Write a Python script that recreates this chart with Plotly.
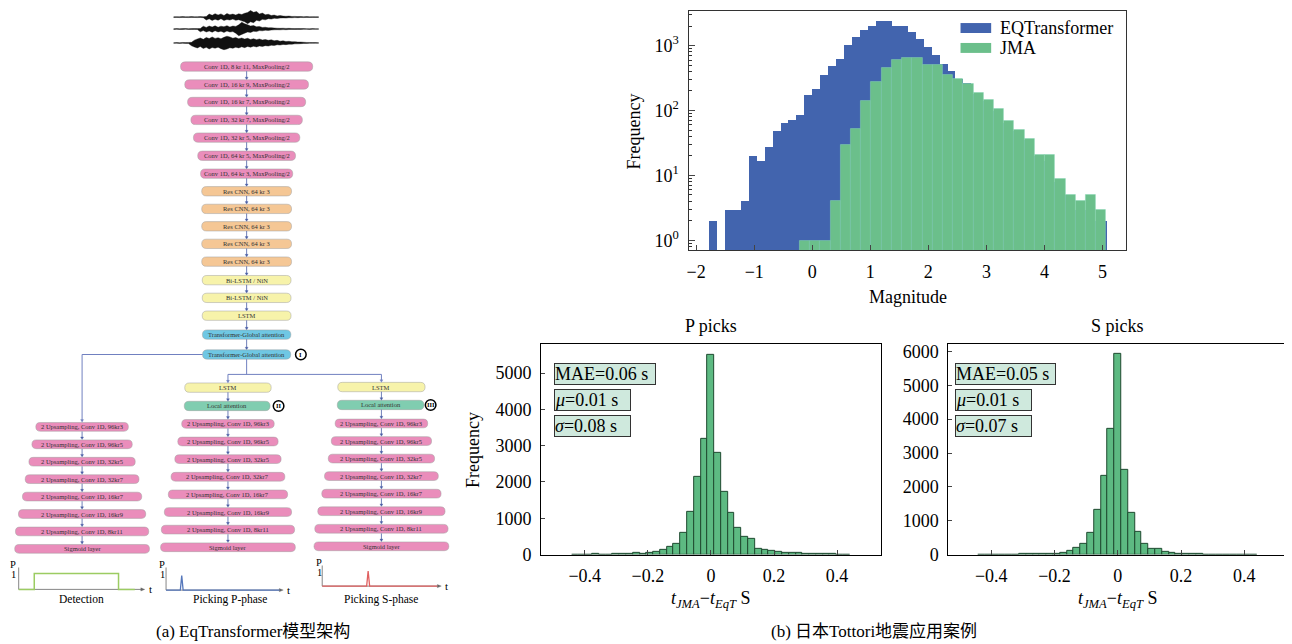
import numpy as np
import plotly.graph_objects as go

# Screen placement: page body adds an 8 px offset; the capture is slightly compressed vertically
OX, OY = 8, 8
KY = 0.986
FW, FH = 1284, 645

# ---------------- data: magnitude histograms (counts per bin) ----------------
EQT_BIN_START = -1.786
EQT_BIN_WIDTH = 0.137
EQT_COUNTS = [2, 0, 3, 3, 4, 20, 17, 28, 49, 64, 72, 86, 177, 219, 351, 483, 625, 1035,
              1358, 1740, 2043, 2391, 2450, 2040, 2000, 1622, 1253, 955, 728, 530, 405,
              312, 271, 180, 140, 100, 95, 65, 48, 35, 20, 18, 17, 8, 5, 4, 3, 3, 2, 2]
JMA_BIN_START = -0.22
JMA_BIN_WIDTH = 0.1761
JMA_COUNTS = [1, 1, 1, 4, 30, 53, 140, 275, 450, 600, 655, 650, 510, 500, 360, 305, 256,
              190, 146, 106, 69, 51, 37, 21, 21, 9, 5, 4, 5, 3]

# ---------------- data: pick residual histograms ----------------
RES_BIN_START = -0.44075
RES_BIN_WIDTH = 0.0215
P_COUNTS = [0, 0, 5, 15, 5, 5, 10, 15, 20, 40, 30, 50, 75, 120, 210, 290, 600, 1170, 2150, 3200,
            5500,
            2800, 1740, 1150, 730, 475, 430, 155, 130, 95, 70, 60, 50, 40, 25, 15, 10, 10, 8, 5, 5]
S_COUNTS = [0, 0, 0, 0, 0, 5, 10, 10, 20, 30, 15, 15, 40, 98, 196, 304, 637, 1314, 2333, 3700,
            5930,
            2500, 1225, 657, 320, 180, 165, 70, 40, 25, 15, 12, 10, 5, 0, 0, 0, 0, 0, 0, 0]
P_STATS = ["MAE=0.06 s", "<i>μ</i>=0.01 s", "<i>σ</i>=0.08 s"]
S_STATS = ["MAE=0.05 s", "<i>μ</i>=0.01 s", "<i>σ</i>=0.07 s"]

MAG_TICKS = [-2, -1, 0, 1, 2, 3, 4, 5]
MAG_TICK_TEXT = ["−2", "−1", "0", "1", "2", "3", "4", "5"]
LOG_TICKS = [1, 10, 100, 1000]
LOG_TICK_TEXT = ["10<sup>0</sup>", "10<sup>1</sup>", "10<sup>2</sup>", "10<sup>3</sup>"]
RES_TICKS = [-0.4, -0.2, 0, 0.2, 0.4]
RES_TICK_TEXT = ["−0.4", "−0.2", "0", "0.2", "0.4"]
P_YTICKS = [0, 1000, 2000, 3000, 4000, 5000]
S_YTICKS = [0, 1000, 2000, 3000, 4000, 5000, 6000]
LEGEND_NAMES = ["EQTransformer", "JMA"]

# ---------------- diagram text ----------------
ENC_LABELS = ["Conv 1D, 8 kr 11, MaxPooling/2", "Conv 1D, 16 kr 9, MaxPooling/2",
              "Conv 1D, 16 kr 7, MaxPooling/2", "Conv 1D, 32 kr 7, MaxPooling/2",
              "Conv 1D, 32 kr 5, MaxPooling/2", "Conv 1D, 64 kr 5, MaxPooling/2",
              "Conv 1D, 64 kr 3, MaxPooling/2",
              "Res CNN, 64 kr 3", "Res CNN, 64 kr 3", "Res CNN, 64 kr 3",
              "Res CNN, 64 kr 3", "Res CNN, 64 kr 3",
              "Bi-LSTM / NiN", "Bi-LSTM / NiN", "LSTM",
              "Transformer-Global attention", "Transformer-Global attention"]
ENC_KINDS = ["conv"] * 7 + ["res"] * 5 + ["lstm"] * 3 + ["tga"] * 2
DEC_LABELS = ["2 Upsampling, Conv 1D, 96kr3", "2 Upsampling, Conv 1D, 96kr5",
              "2 Upsampling, Conv 1D, 32kr5", "2 Upsampling, Conv 1D, 32kr7",
              "2 Upsampling, Conv 1D, 16kr7", "2 Upsampling, Conv 1D, 16kr9",
              "2 Upsampling, Conv 1D, 8kr11", "Sigmoid layer"]
BRANCH_PRE = ["LSTM", "Local attention"]
OUT_TITLES = ["Detection", "Picking P-phase", "Picking S-phase"]
CIRCLE_MARKS = ["I", "II", "III"]

# waveform envelope amplitudes (decorative seismograms, px)
WAVE_ENV = [
    [0.3, 0.4, 0.3, 0.5, 0.3, 0.4, 0.5, 0.3, 0.4, 0.5, 0.4, 0.6,
     3.0, 1.8, 3.4, 2.1, 3.2, 1.6, 3.5, 2.4, 3.0, 2.0, 3.3, 2.6, 3.8, 4.6,
     6.6, 4.8, 5.6, 3.2, 4.0, 2.3, 2.8, 1.6, 2.0, 1.2, 1.5, 1.0, 0.8, 1.0, 0.6, 0.7,
     0.5, 0.6, 0.4, 0.5, 0.3, 0.4, 0.3, 0.3],
    [0.3, 0.4, 0.3, 0.4, 0.5, 0.3, 0.4, 0.5, 0.4, 0.5,
     2.8, 1.6, 3.0, 2.0, 3.2, 1.8, 2.9, 2.2, 3.4, 2.0, 3.0, 2.6, 4.2,
     6.8, 5.4, 4.2, 3.0, 3.5, 2.2, 2.6, 1.6, 1.8, 1.2, 1.4, 1.0, 0.8, 0.7, 0.8, 0.6, 0.7,
     0.5, 0.4, 0.5, 0.4, 0.4, 0.3, 0.3, 0.4, 0.3, 0.3],
    [0.3, 0.4, 0.3, 0.5, 0.4, 0.5, 0.6,
     2.8, 4.0, 5.0, 3.6, 5.5, 4.4, 6.0, 4.6, 5.3, 4.2, 5.7, 6.8, 6.0, 4.8, 5.4, 4.2, 5.0,
     3.9, 4.7, 3.5, 4.3, 3.3, 4.0, 3.0, 3.5, 2.7, 3.1,
     2.3, 2.6, 1.8, 2.1, 1.5, 1.7, 1.2, 1.3, 0.9, 0.9, 0.7, 0.5, 0.5, 0.4, 0.4, 0.3],
]

# ---------------- styles ----------------
FONT = "Liberation Serif, Noto Sans CJK SC"
BLUE = "#4264ae"
GREEN = "#6bbf8b"
HGREEN = "#5dba82"
HEDGE = "#1f4a30"
BOXFILL = "#cfe9dd"
COLORS = {"conv": "#ea8dbb", "res": "#f5c795", "lstm": "#f7f3aa", "tga": "#6fc7e3",
          "att": "#80cdb0"}
ARROWC = "#4b5fa6"
LINEC = "#7080c0"


def dx(px):
    return min(1.0, max(0.0, (px - OX) / FW))


def dy(py):
    return min(1.0, max(0.0, 1 - (py / KY - OY) / FH))


fig = go.Figure()

# hidden full-figure axis in screen coordinates for diagram & annotations
fig.add_trace(go.Scatter(x=[], y=[], xaxis="x4", yaxis="y4", showlegend=False, hoverinfo="skip"))

# magnitude histograms
eqt_x = EQT_BIN_START + EQT_BIN_WIDTH * (np.arange(len(EQT_COUNTS)) + 0.5)
jma_x = JMA_BIN_START + JMA_BIN_WIDTH * (np.arange(len(JMA_COUNTS)) + 0.5)
eqt_y = [c if c > 0 else None for c in EQT_COUNTS]
fig.add_trace(go.Bar(x=eqt_x, y=eqt_y, width=EQT_BIN_WIDTH, marker=dict(color=BLUE, line=dict(width=0)),
                     name=LEGEND_NAMES[0], showlegend=False, xaxis="x", yaxis="y"))
fig.add_trace(go.Bar(x=jma_x, y=JMA_COUNTS, width=JMA_BIN_WIDTH,
                     marker=dict(color=GREEN, line=dict(width=0.5, color="#86d4b4")),
                     name=LEGEND_NAMES[1], showlegend=False, xaxis="x", yaxis="y"))

# residual histograms
res_x = RES_BIN_START + RES_BIN_WIDTH * (np.arange(len(P_COUNTS)) + 0.5)
fig.add_trace(go.Bar(x=res_x, y=P_COUNTS, width=RES_BIN_WIDTH,
                     marker=dict(color=HGREEN, line=dict(color=HEDGE, width=1)),
                     showlegend=False, xaxis="x2", yaxis="y2"))
res_x2 = RES_BIN_START + RES_BIN_WIDTH * (np.arange(len(S_COUNTS)) + 0.5)
fig.add_trace(go.Bar(x=res_x2, y=S_COUNTS, width=RES_BIN_WIDTH,
                     marker=dict(color=HGREEN, line=dict(color=HEDGE, width=1)),
                     showlegend=False, xaxis="x3", yaxis="y3"))

shapes = []
anns = []


def ann(x, y, text, size, **kw):
    d = dict(x=x, y=y, xref="x4", yref="y4", text=text, showarrow=False,
             font=dict(size=size, family=FONT, color=kw.pop("color", "black")))
    d.update(kw)
    return d


def line(x0, y0, x1, y1, color=LINEC, width=1):
    return dict(type="line", x0=x0, y0=y0, x1=x1, y1=y1, xref="x4", yref="y4",
                line=dict(color=color, width=width), layer="above")


def tri(path, color):
    return dict(type="path", path=path, xref="x4", yref="y4", fillcolor=color,
                line=dict(color=color, width=0.3), layer="above")


def arrow_down(x, y0, y1, color=ARROWC, width=0.8, hl=2.6, hw=1.5):
    shapes.append(line(x, y0, x, y1 - hl * 0.6, color, width))
    shapes.append(tri(f"M{x - hw},{y1 - hl} L{x + hw},{y1 - hl} L{x},{y1} Z", color))


def arrow_right(x0, x1, y, color="#666", width=0.8, hl=4, hw=1.6):
    shapes.append(line(x0, y, x1 - hl * 0.6, y, color, width))
    shapes.append(tri(f"M{x1 - hl},{y - hw} L{x1 - hl},{y + hw} L{x1},{y} Z", color))


def pill(cx, cy, w, h, fill):
    x0, x1 = cx - w / 2, cx + w / 2
    y0, y1 = cy - h / 2, cy + h / 2
    r = h / 2
    p = (f"M{x0 + r},{y0} L{x1 - r},{y0} Q{x1},{y0} {x1},{cy} Q{x1},{y1} {x1 - r},{y1} "
         f"L{x0 + r},{y1} Q{x0},{y1} {x0},{cy} Q{x0},{y0} {x0 + r},{y0} Z")
    return dict(type="path", path=p, xref="x4", yref="y4", fillcolor=fill,
                line=dict(color="rgba(160,160,160,0.7)", width=0.7), layer="above")


BH = 9.4
BOXFONT = 6.5

# ---- waveforms ----
wave_cy = [15, 27, 41]
for cy, env in zip(wave_cy, WAVE_ENV):
    wx = np.linspace(172, 317, len(env))
    up = " L".join(f"{x:.1f},{cy - a:.1f}" for x, a in zip(wx, env))
    lo_env = env[1:] + env[:1]
    lo = " L".join(f"{x:.1f},{cy + a:.1f}" for x, a in zip(wx[::-1], lo_env[::-1]))
    shapes.append(dict(type="path", path=f"M{up} L{lo} Z", xref="x4", yref="y4",
                       fillcolor="#111", line=dict(color="#111", width=0.4), layer="above"))

# ---- encoder ----
ENC_Y = [64.7, 82.7, 100.3, 118.3, 136.1, 154.3, 172.3, 190.0, 207.7, 225.2, 242.8, 260.7,
         279.3, 297.1, 315.0, 334.0, 354.0]
ENC_W = [132.4, 124, 118.3, 111.7, 106.6, 98, 92.4, 90, 90, 90, 90, 90, 89, 89, 89, 88.6, 88.3]
ENC_CX = 245.0
for i, (lab, kind) in enumerate(zip(ENC_LABELS, ENC_KINDS)):
    shapes.append(pill(ENC_CX, ENC_Y[i], ENC_W[i], BH, COLORS[kind]))
    anns.append(ann(ENC_CX, ENC_Y[i], lab, BOXFONT, color="#333"))
    if i < len(ENC_LABELS) - 1:
        arrow_down(ENC_CX, ENC_Y[i] + BH / 2, ENC_Y[i + 1] - BH / 2)

# ---- decoders ----
DEC_CX = [80.2, 226.3, 380.0]
DEC_Y0 = [426.7, 423.7, 423.3]
DEC_STEP = [17.51, 17.71, 17.63]
DEC_W = [92.7, 100.5, 106.5, 114, 119.5, 127.5, 133.5, 135]
PRE_Y = [[387.3, 405.7], [386.7, 404.7]]
PRE_W = [86.6, 87.5]
for c in range(3):
    cx = DEC_CX[c]
    ys = [DEC_Y0[c] + DEC_STEP[c] * k for k in range(len(DEC_LABELS))]
    for k, lab in enumerate(DEC_LABELS):
        shapes.append(pill(cx, ys[k], DEC_W[k], BH - 0.6, COLORS["conv"]))
        anns.append(ann(cx, ys[k], lab, BOXFONT, color="#333"))
        if k < len(DEC_LABELS) - 1:
            arrow_down(cx, ys[k] + BH / 2, ys[k + 1] - BH / 2)
    if c > 0:
        py = PRE_Y[c - 1]
        shapes.append(pill(cx, py[0], PRE_W[c - 1], BH, COLORS["lstm"]))
        anns.append(ann(cx, py[0], BRANCH_PRE[0], BOXFONT, color="#333"))
        shapes.append(pill(cx - 0.8, py[1], PRE_W[c - 1] - 0.6, BH, COLORS["att"]))
        anns.append(ann(cx - 0.8, py[1], BRANCH_PRE[1], BOXFONT, color="#333"))
        arrow_down(cx, py[0] + BH / 2, py[1] - BH / 2)
        arrow_down(cx, py[1] + BH / 2, ys[0] - BH / 2)
        arrow_down(cx, 374, py[0] - BH / 2, color=LINEC, width=1)

# connectors
shapes.append(line(ENC_CX - ENC_W[-1] / 2, 354, DEC_CX[0], 354))
arrow_down(DEC_CX[0], 354, DEC_Y0[0] - BH / 2, color=LINEC, width=1)
shapes.append(line(ENC_CX, 354 + BH / 2, ENC_CX, 374))
shapes.append(line(DEC_CX[1], 374, DEC_CX[2], 374))

# circled marks
CIRC_POS = [(299.3, 354.0), (277.0, 405.7), (429.3, 404.7)]
for (cx, cy), mk in zip(CIRC_POS, CIRCLE_MARKS):
    shapes.append(dict(type="circle", x0=cx - 5.3, x1=cx + 5.3, y0=cy - 5.3, y1=cy + 5.3,
                       xref="x4", yref="y4", fillcolor="white",
                       line=dict(color="black", width=1.5), layer="above"))
    anns.append(ann(cx, cy, f"<b>{mk}</b>", 6.5))

# output mini-plots
OUT = [
    dict(ax=16.7, by=590.0, ex=143.0, top=568.0, px=10.5, lx=80.0, color="#9ccc62"),
    dict(ax=164.3, by=590.7, ex=281.7, top=568.0, px=160.0, lx=228.0, color="#5577bb"),
    dict(ax=320.7, by=586.7, ex=440.0, top=566.0, px=317.3, lx=380.0, color="#e06060"),
]
for c, o in enumerate(OUT):
    arrow_right(o["ax"], o["ex"], o["by"])
    shapes.append(line(o["ax"], o["by"], o["ax"], o["top"], color="#666", width=0.8))
    anns.append(ann(o["ex"] + 2, o["by"], "t", 11, xanchor="left"))
    anns.append(ann(o["px"], o["top"] - 3, "P", 10.5))
    anns.append(ann(o["px"] + 0.5, o["top"] + 7, "1", 10.5))
    anns.append(ann(o["lx"], 600, OUT_TITLES[c], 11.5))

a, b = OUT[0]["ax"], OUT[0]["by"]
shapes.append(dict(type="path", path=f"M{a},{b} L32.3,{b} L32.3,574 L116.7,574 L116.7,{b} L133,{b}",
                   xref="x4", yref="y4", line=dict(color=OUT[0]["color"], width=1.5), layer="above"))
a, b = OUT[1]["ax"], OUT[1]["by"]
shapes.append(dict(type="path", path=f"M{a},{b} L178.6,{b} L180,576 L181.4,{b} L278,{b}",
                   xref="x4", yref="y4", line=dict(color=OUT[1]["color"], width=1.3), layer="above"))
a, b = OUT[2]["ax"], OUT[2]["by"]
shapes.append(dict(type="path", path=f"M{a},{b} L365.2,{b} L366.7,571.7 L368.2,{b} L436,{b}",
                   xref="x4", yref="y4", line=dict(color=OUT[2]["color"], width=1.3), layer="above"))

# ---------------- right panel annotations ----------------
for i, (nm, col) in enumerate(zip(LEGEND_NAMES, [BLUE, GREEN])):
    yc = 26 + 20 * i
    shapes.append(dict(type="rect", x0=960, x1=990.7, y0=yc - 5, y1=yc + 5, xref="x4", yref="y4",
                       fillcolor=col, line=dict(width=0), layer="above"))
    anns.append(ann(998, yc, nm, 18, xanchor="left"))

anns.append(ann(633, 130, "Frequency", 18, textangle=-90))
anns.append(ann(907, 296, "Magnitude", 18))
anns.append(ann(710, 325, "P picks", 18))
anns.append(ann(1117, 325, "S picks", 18))
anns.append(ann(471.7, 450, "Frequency", 18, textangle=-90))
xlab = "<i>t</i><sub><i>JMA</i></sub>−<i>t</i><sub><i>EqT</i></sub> S"
anns.append(ann(710, 600, xlab, 18))
anns.append(ann(1117, 600, xlab, 18))

STAT_Y = [374, 399.5, 425.5]
STAT_W = [[102, 77, 77], [101, 77, 77]]
for j, (x0, stats) in enumerate(zip([552.7, 954.5], [P_STATS, S_STATS])):
    for i, s in enumerate(stats):
        anns.append(ann(x0, STAT_Y[i], s, 18, xanchor="left", yanchor="middle", align="left",
                        bgcolor=BOXFILL, bordercolor="#333", borderwidth=1, borderpad=0,
                        width=STAT_W[j][i] - 2))

anns.append(ann(251, 632, "(a) EqTransformer模型架构", 17))
anns.append(ann(873, 632, "(b) 日本Tottori地震应用案例", 17))

minor_vals = [m * 10 ** e for e in range(-1, 4) for m in range(2, 10)]
minor_vals = [v for v in minor_vals if 0.7 < v < 3600 and v not in LOG_TICKS]

ax_common = dict(showgrid=False, zeroline=False, showline=True, mirror=True,
                 ticks="inside", tickfont=dict(size=18, family=FONT), ticklabelstandoff=5)

fig.update_layout(
    width=FW, height=FH, margin=dict(l=0, r=0, t=0, b=0),
    paper_bgcolor="white", plot_bgcolor="rgba(0,0,0,0)",
    font=dict(family=FONT, color="black"),
    barmode="overlay", bargap=0, showlegend=False,
    xaxis=dict(domain=[dx(687.7), dx(1126)], anchor="y", range=[-2.13, 5.41],
               tickvals=MAG_TICKS, ticktext=MAG_TICK_TEXT, ticklen=5,
               linecolor="#333", linewidth=1.3, **ax_common),
    yaxis=dict(domain=[dy(249.3), dy(8.7)], anchor="x", type="log", range=[-0.153, 3.536],
               tickvals=LOG_TICKS, ticktext=LOG_TICK_TEXT, ticklen=6,
               minor=dict(tickmode="array", tickvals=minor_vals, ticks="inside", ticklen=3,
                          tickcolor="#333"),
               linecolor="#333", linewidth=1.3, **ax_common),
    xaxis2=dict(domain=[dx(540), dx(880)], anchor="y2", range=[-0.538, 0.538],
                tickvals=RES_TICKS, ticktext=RES_TICK_TEXT, ticklen=5,
                linecolor="black", linewidth=1, **ax_common),
    yaxis2=dict(domain=[dy(555), dy(343.3)], anchor="x2", range=[0, 5805],
                tickvals=P_YTICKS, ticklen=4, linecolor="black", linewidth=1, **ax_common),
    xaxis3=dict(domain=[dx(947.7), dx(1288)], anchor="y3", range=[-0.536, 0.538],
                tickvals=RES_TICKS, ticktext=RES_TICK_TEXT, ticklen=5,
                linecolor="black", linewidth=1, **ax_common),
    yaxis3=dict(domain=[dy(555), dy(343.3)], anchor="x3", range=[0, 6226],
                tickvals=S_YTICKS, ticklen=4, linecolor="black", linewidth=1, **ax_common),
    xaxis4=dict(domain=[0, 1], anchor="y4", range=[OX, OX + FW], visible=False, fixedrange=True),
    yaxis4=dict(domain=[0, 1], anchor="x4", range=[(OY + FH) * KY, OY * KY], visible=False,
                fixedrange=True),
    shapes=shapes, annotations=anns,
)

fig.write_html("out.html")
